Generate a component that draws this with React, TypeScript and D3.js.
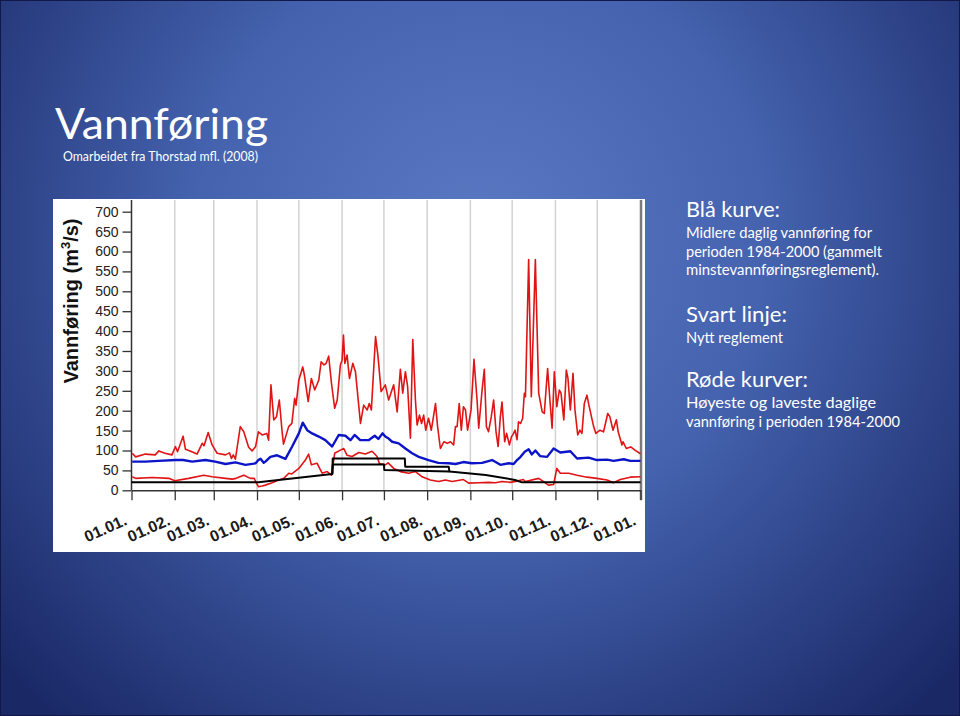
import React, { useEffect, useRef } from 'react'
import * as d3 from 'd3'

type Pt = [number, number] // [day of year, m3/s]

const monthLabels = ['01.01.','01.02.','01.03.','01.04.','01.05.','01.06.','01.07.','01.08.','01.09.','01.10.','01.11.','01.12.','01.01.']
const yTicks = [0,50,100,150,200,250,300,350,400,450,500,550,600,650,700]

// highest daily flow 1984-2000
const maxFlow: Pt[] = [
  [0.5,93],[3,84],[10,91],[17,89],[19.6,99],[24,93],[29,89],[31.5,110],[33,97],[37,136],[38.7,103],[42,99],[47,91],
  [50.7,118],[52,112],[55,145],[57.8,114],[61.4,93],[67.4,89],[70.3,94],[71.7,80],[73,89],[74.5,78],[78,160],[80.5,147],
  [84,108],[86.5,99],[89,110],[91,147],[93.7,139],[97,143],[98.3,126],[100,265],[102,177],[104,185],[106,227],[108,147],
  [109,116],[112.7,160],[115,168],[117,231],[118,214],[120,277],[122.8,310],[124,289],[126.7,223],[129,281],[131.4,252],
  [134.3,277],[136,323],[138,315],[139.6,319],[141.4,337],[143.4,269],[145.7,206],[147.5,226],[149.8,315],[151,327],
  [152,390],[153,319],[154.6,340],[156.3,281],[158.7,319],[160.6,298],[164.2,168],[166.5,214],[169,202],[170.5,218],
  [172,202],[175,386],[176.8,336],[179,248],[182,265],[184.4,227],[186,244],[188,265],[190.5,197],[192.8,304],[194.5,244],
  [196.4,298],[198,261],[200,131],[201.7,379],[203.6,227],[204.8,164],[206.5,189],[208,168],[209.5,189],[211,151],
  [213,181],[215,151],[218,218],[219.5,160],[221.5,105],[224,122],[226.5,118],[228.7,122],[231,114],[232.3,160],
  [233.5,160],[235,218],[236.5,151],[238,210],[239.5,202],[241,151],[243.5,202],[245.6,329],[247.8,227],[249,156],
  [251.4,252],[253,304],[254.5,160],[256,147],[258,185],[259.7,227],[261.4,147],[262.9,110],[264.5,185],[265.7,222],
  [267.6,122],[269,143],[271,114],[272.5,135],[274,143],[275,151],[276.5,127],[277.5,172],[279,168],[280.5,181],
  [281.7,244],[282.5,235],[284.8,580],[286.7,235],[289.6,580],[292,244],[294.5,197],[296,193],[298.4,306],[299.5,252],
  [301.6,156],[303.2,298],[305,210],[306.8,252],[308,244],[310,177],[311.8,302],[313,281],[314.7,202],[316.6,294],
  [318,202],[320,139],[321.5,151],[323,143],[324.7,218],[326.6,239],[328,214],[331.4,160],[333,143],[336,151],
  [338.5,147],[341.5,193],[343,185],[345.3,151],[347.7,177],[349,147],[351.7,114],[352.5,122],[354.8,105],[358,109],
  [361,101],[364.4,93],[365,92]
]

// mean daily flow 1984-2000
const meanFlow: Pt[] = [
  [0.5,72],[10,72],[19.6,74],[31.5,76],[37,76],[43.5,72],[53,76],[60,72],[67.4,66],[74.5,70],[81.7,64],[87.7,67],
  [89,68],[91,76],[92.5,79],[94.8,69],[96,72],[99.6,84],[104.4,88],[110.4,79],[115.2,110],[120,143],[122.8,170],
  [126,151],[129.5,143],[134.3,135],[139,126],[143.9,110],[148.6,139],[153.4,137],[157,126],[160,139],[164,126],
  [170,126],[174.4,137],[177,129],[180,143],[182,135],[184.4,130],[186.9,122],[191.6,118],[196.4,105],[201.2,93],
  [206,84],[213,76],[220,69],[227.5,68],[232.3,66],[238,71],[244,68],[251.4,69],[258.6,76],[264.5,64],[270.5,68],
  [274,66],[276.5,76],[279,84],[282,97],[284.8,103],[287,90],[289.6,100],[293,86],[298,84],[302.7,105],[307.5,95],
  [314.7,98],[319.5,80],[327.8,82],[333.8,76],[341,77],[345.7,74],[353,78],[357.7,74],[365,74]
]

// lowest daily flow 1984-2000
const minFlow: Pt[] = [
  [0.5,34],[3,30],[14.8,32],[26.8,30],[31,24],[41,30],[51.8,38],[57.8,34],[67.4,30],[72.2,28],[75,30],[80.5,38],
  [85.3,30],[88,30],[89,22],[91,9],[93.7,11],[96,13],[100.8,19],[105.6,26],[109.2,30],[112.8,43],[115,41],[120,55],
  [124.7,76],[127,91],[129,64],[133,68],[136.7,43],[140.3,47],[143.4,38],[145.7,93],[149.8,101],[152.2,105],
  [154.6,88],[158.2,85],[163,95],[167.7,91],[172.5,98],[176.1,85],[177.8,67],[182,64],[184,69],[188,55],[192.8,47],
  [198.8,43],[203.6,47],[208.4,34],[214.3,26],[220.3,22],[225.1,26],[230,22],[238,27],[241.8,18],[249,19],[256,20],
  [261,19],[265.7,22],[271.7,20],[276.5,23],[281,27],[282.4,22],[292,30],[295,23],[299,13],[302.7,14.5],[305,55],
  [307.5,43],[313.5,43],[319.5,38],[326.7,33],[333.8,30],[341,26],[345.7,19],[350.5,27],[357.7,33],[365,34]
]

// new regulation (two black lines)
const ruleUpper: Pt[] = [
  [0,20],[91,20],[144,41],[144.3,80],[196,80],[196.3,59],[227.5,59],[228,47],[254,38.5],[275,26],[280,20],[365,20]
]
const ruleLower: Pt[] = [[144,41],[144.3,65],[181,65],[181.3,51],[228,47]]

const legend = [
  { head: 'Blå kurve:', lines: ['Midlere daglig vannføring for','perioden 1984-2000 (gammelt','minstevannføringsreglement).'] },
  { head: 'Svart linje:', lines: ['Nytt reglement'] },
  { head: 'Røde kurver:', lines: ['Høyeste og laveste daglige','vannføring i perioden 1984-2000'] },
]

export default function App(){
  const svgRef = useRef<SVGSVGElement>(null)

  useEffect(()=>{
    document.body.style.margin = '0'
    const W = 960, H = 716
    const svg = d3.select(svgRef.current).attr('width',W).attr('height',H)
    svg.selectAll('*').remove()

    // slide background
    const grad = svg.append('defs').append('radialGradient')
      .attr('id','bg').attr('gradientUnits','userSpaceOnUse')
      .attr('cx',480).attr('cy',240).attr('r',640)
    grad.append('stop').attr('offset',0).attr('stop-color','#5b79c3')
    grad.append('stop').attr('offset',0.45).attr('stop-color','#4462ae')
    grad.append('stop').attr('offset',1).attr('stop-color','#1a2866')
    svg.append('rect').attr('width',W).attr('height',H).attr('fill','url(#bg)')
      .attr('stroke','#10194a').attr('stroke-width',2)

    const calibri = 'Lato, "Open Sans", sans-serif'
    svg.append('text').attr('x',55).attr('y',139).attr('fill','#fff')
      .attr('font-family',calibri).attr('font-size',43)
      .attr('textLength',213).attr('lengthAdjust','spacingAndGlyphs')
      .text('Vannføring')
    svg.append('text').attr('x',63).attr('y',161).attr('fill','#fff')
      .attr('font-family',calibri).attr('font-size',13)
      .attr('textLength',195).attr('lengthAdjust','spacingAndGlyphs')
      .text('Omarbeidet fra Thorstad mfl. (2008)')

    // right-hand explanation
    const headY = [217, 321.5, 387], headLen = [94, 101, 122]
    const lineLen = [[186,196,193],[97],[190,214]]
    legend.forEach((g,i)=>{
      svg.append('text').attr('x',686).attr('y',headY[i]).attr('fill','#fff')
        .attr('font-family',calibri).attr('font-size',22)
        .attr('textLength',headLen[i]).attr('lengthAdjust','spacingAndGlyphs')
        .text(g.head)
      g.lines.forEach((l,j)=>{
        svg.append('text').attr('x',686).attr('y',headY[i]+21+j*18.5).attr('fill','#fff')
          .attr('font-family',calibri).attr('font-size',14.5)
          .attr('textLength',lineLen[i][j]).attr('lengthAdjust','spacingAndGlyphs')
          .text(l)
      })
    })

    // chart panel
    svg.append('rect').attr('x',53).attr('y',199).attr('width',592).attr('height',353).attr('fill','#fff')

    const start = new Date(2001,0,1), end = new Date(2002,0,1)
    const x = d3.scaleTime().domain([start,end]).range([131.5,640.5])
    const y = d3.scaleLinear().domain([0,700]).range([490.3,211.7])
    const day = (d:number) => new Date(start.getTime() + d*864e5)
    const top = 200
    const months = d3.timeMonth.range(start, d3.timeDay.offset(end,1))

    // month gridlines
    svg.append('g').selectAll('line').data(months.slice(1,-1)).join('line')
      .attr('x1',d=>x(d)).attr('x2',d=>x(d)).attr('y1',top).attr('y2',y(0))
      .attr('stroke','#d2d2d2').attr('stroke-width',1.5)

    const font = '"Liberation Sans", Arial, sans-serif'

    // y axis
    const yAxis = svg.append('g').attr('transform',`translate(${x(start)},0)`)
      .call(d3.axisLeft(y).tickValues(yTicks).tickSize(9).tickSizeOuter(0).tickPadding(4))
    yAxis.select('.domain').remove()
    yAxis.selectAll('line').attr('stroke','#333').attr('stroke-width',1.3)
    yAxis.selectAll('text').attr('font-family',font).attr('font-size',14).attr('fill','#222')
    svg.append('line').attr('x1',x(start)).attr('x2',x(start)).attr('y1',top).attr('y2',y(0))
      .attr('stroke','#333').attr('stroke-width',1.5)
    svg.append('line').attr('x1',x(end)+0.5).attr('x2',x(end)+0.5).attr('y1',top).attr('y2',500)
      .attr('stroke','#7a7a7a').attr('stroke-width',2.5)

    // x axis
    const xAxis = svg.append('g').attr('transform',`translate(0,${y(0)})`)
      .call(d3.axisBottom(x).tickValues(months).tickSize(10).tickSizeOuter(0)
        .tickFormat((_d,i)=>monthLabels[i]))
    xAxis.select('.domain').attr('stroke','#333').attr('stroke-width',1.5)
    xAxis.selectAll('line').attr('stroke','#333').attr('stroke-width',1.3)
    xAxis.selectAll('text')
      .attr('y',null).attr('dy',null).attr('x',null)
      .attr('text-anchor','end')
      .attr('transform','translate(-4,34) rotate(-24)')
      .attr('font-family',font).attr('font-weight','bold').attr('font-size',16).attr('fill','#1a1a1a')

    // y axis title
    const yt = svg.append('text').attr('transform','translate(78,301) rotate(-90)')
      .attr('text-anchor','middle').attr('font-family',font).attr('font-weight','bold')
      .attr('font-size',20).attr('fill','#111')
    yt.append('tspan').text('Vannføring (m')
    yt.append('tspan').attr('dy',-8).attr('font-size',13).text('3')
    yt.append('tspan').attr('dy',8).text('/s)')

    // curves
    const line = d3.line<Pt>().x(d=>x(day(d[0]))).y(d=>y(d[1]))
    const series: [Pt[], string, number][] = [
      [maxFlow,'#e01414',1.6],
      [minFlow,'#e01414',1.6],
      [meanFlow,'#0c14c8',2.4],
      [ruleUpper,'#000',2],
      [ruleLower,'#000',2],
    ]
    svg.append('g').selectAll('path').data(series).join('path')
      .attr('d',d=>line(d[0]))
      .attr('fill','none').attr('stroke',d=>d[1]).attr('stroke-width',d=>d[2])
      .attr('stroke-linejoin','round')
  },[])

  return <svg ref={svgRef} style={{display:'block'}}></svg>
}
